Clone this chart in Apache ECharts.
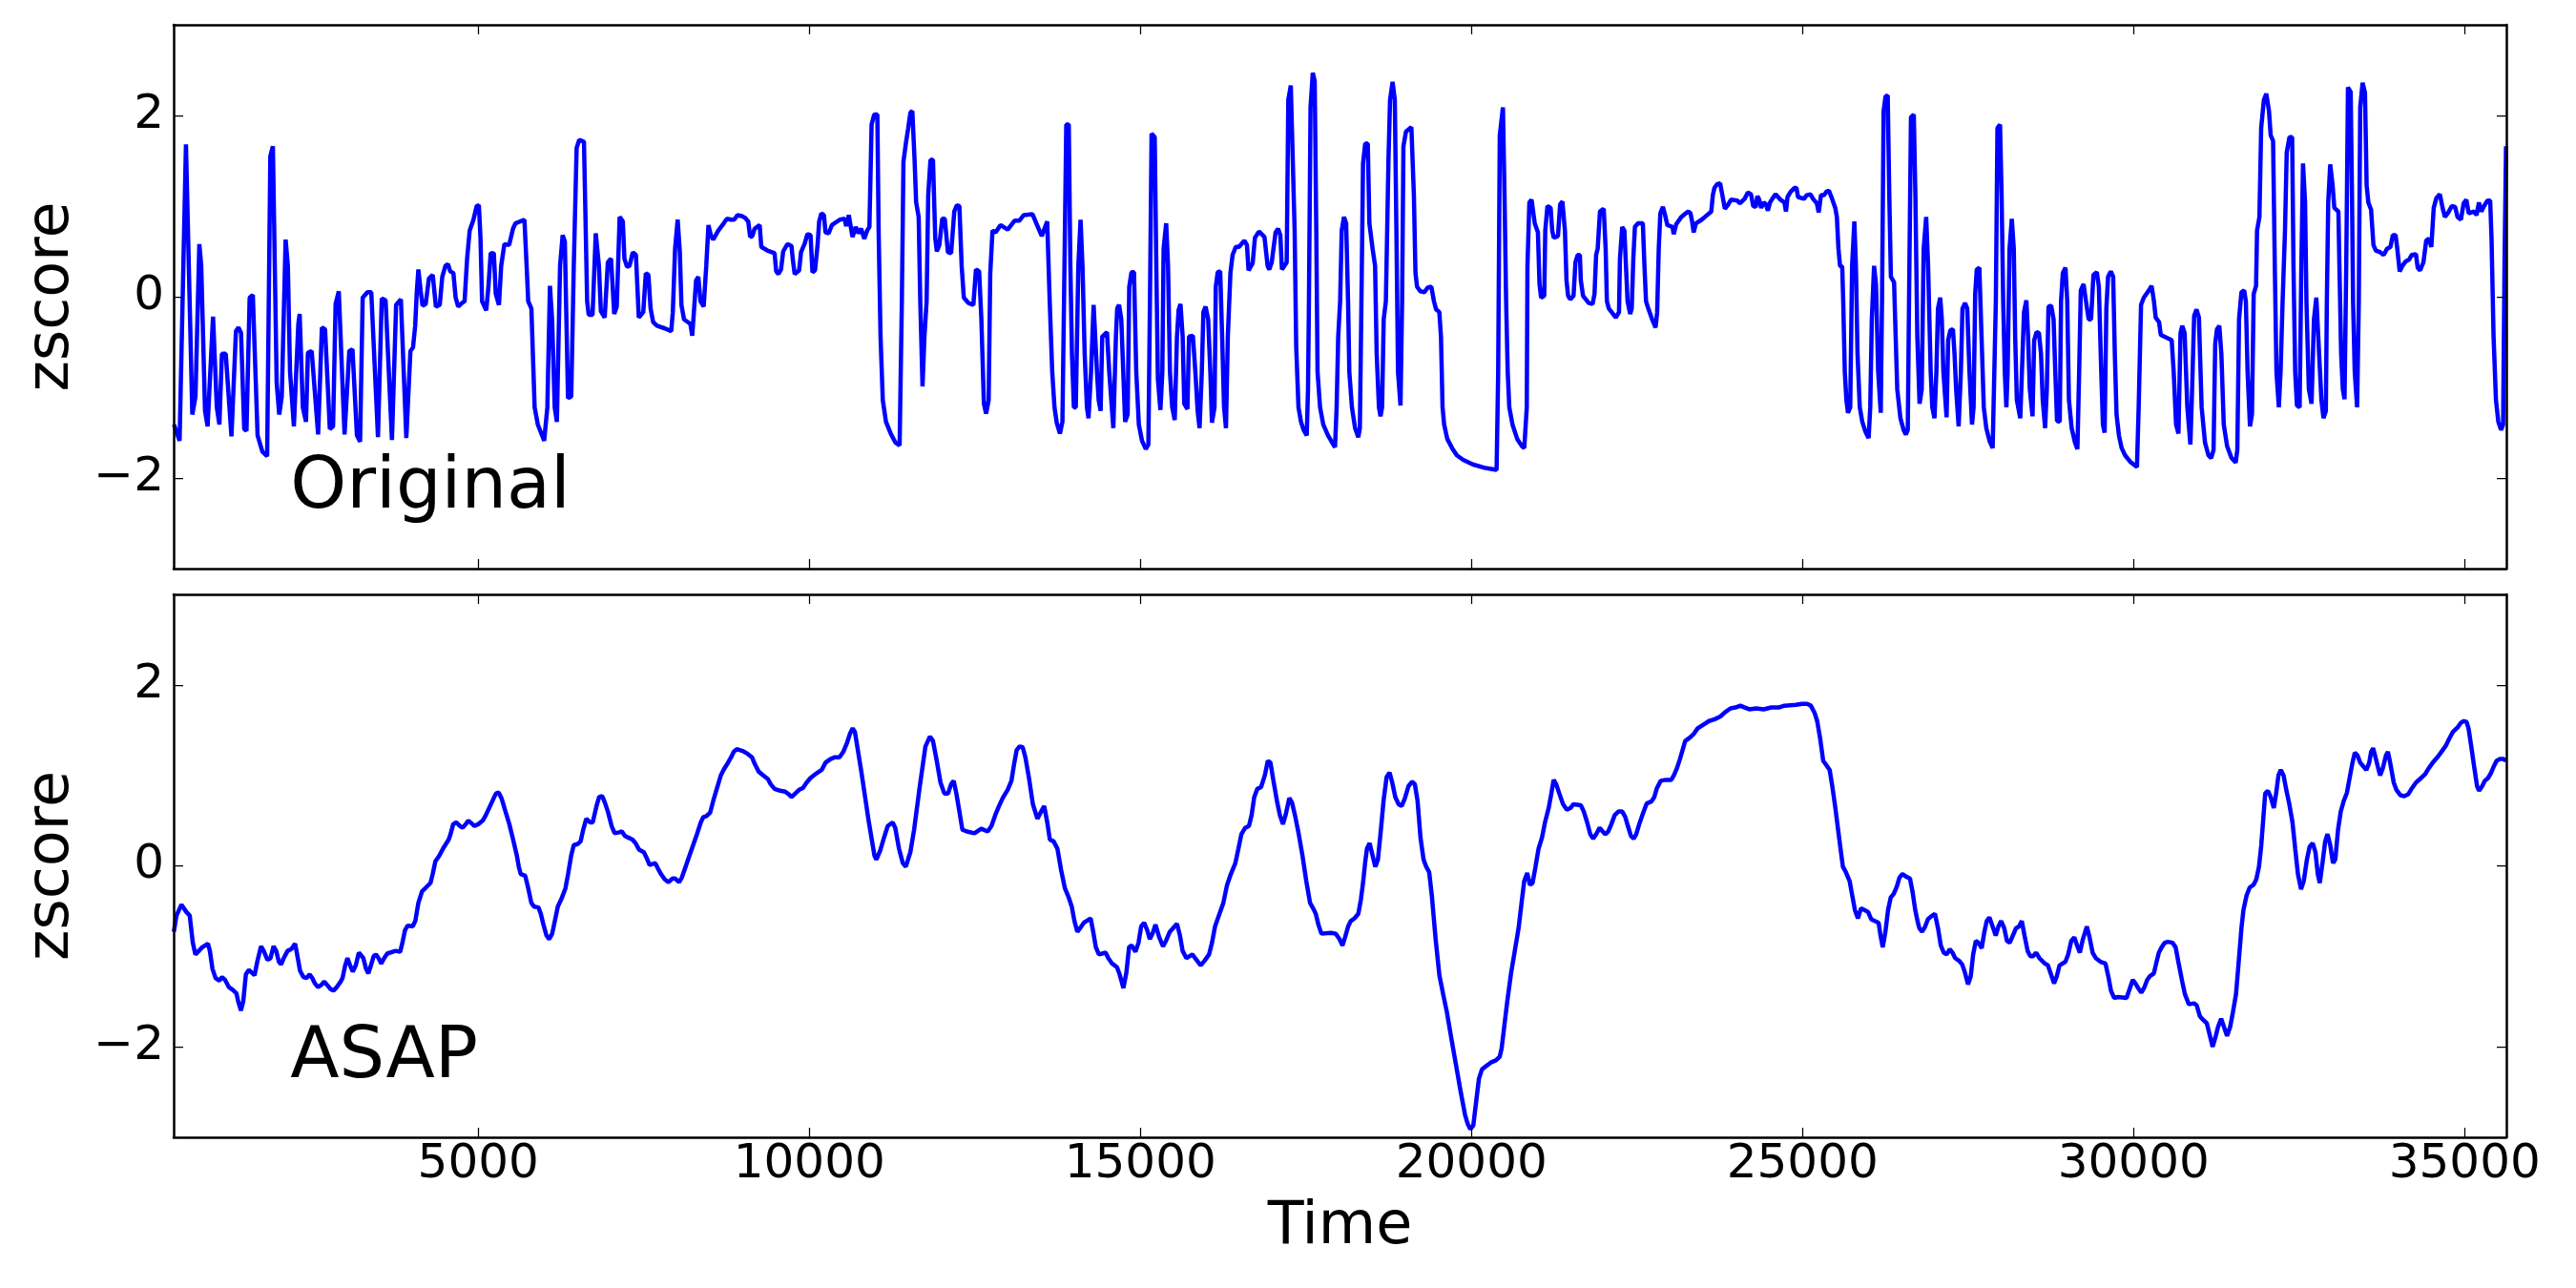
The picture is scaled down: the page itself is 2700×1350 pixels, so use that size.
<!DOCTYPE html>
<html>
<head>
<meta charset="utf-8">
<script src="https://cdn.jsdelivr.net/npm/echarts@6/dist/echarts.min.js"></script>
<style>
html,body{margin:0;padding:0;background:#fff;}
#chart{width:2700px;height:1350px;}
</style>
</head>
<body>
<div id="chart"></div>
<script>
// ---------------- data ----------------
const xTicks = [5000, 10000, 15000, 20000, 25000, 30000, 35000];
const yTicks = [-2, 0, 2];
const xRange = [400, 35630];
const yRange = [-3, 3];
const panelLabels = ['Original', 'ASAP'];
const xTitle = 'Time';
const yTitle = 'zscore';

// [time, zscore]
const originalPoints = [
[405,-1.41],[490,-1.59],[586,1.68],[682,-1.30],[730,-1.10],[788,0.58],[817,0.34],[874,-1.26],[913,-1.43],[995,-0.22],
[1052,-1.22],[1091,-1.41],[1129,-0.63],[1187,-0.63],[1273,-1.54],[1341,-0.38],[1379,-0.34],[1418,-0.40],[1466,-1.46],[1500,-1.48],
[1548,-0.01],[1596,0.02],[1668,-1.53],[1740,-1.71],[1812,-1.76],[1860,1.55],[1899,1.66],[1956,-0.95],[1995,-1.30],[2033,-1.10],
[2091,0.63],[2125,0.34],[2158,-0.83],[2216,-1.43],[2283,-0.30],[2303,-0.19],[2351,-1.22],[2399,-1.38],[2428,-0.62],[2485,-0.60],
[2582,-1.52],[2639,-0.34],[2687,-0.36],[2759,-1.46],[2808,-1.43],[2846,-0.08],[2894,0.06],[2981,-1.52],[3053,-0.60],[3101,-0.58],
[3168,-1.53],[3216,-1.60],[3255,-0.01],[3327,0.05],[3385,0.05],[3486,-1.55],[3543,-0.02],[3601,-0.04],[3697,-1.58],[3760,-0.09],
[3832,-0.03],[3914,-1.56],[3976,-0.60],[4015,-0.56],[4048,-0.32],[4072,0.05],[4096,0.30],[4130,0.07],[4159,-0.10],[4207,-0.08],
[4255,0.20],[4313,0.24],[4361,-0.11],[4419,-0.09],[4457,0.22],[4505,0.34],[4544,0.36],[4577,0.28],[4625,0.26],[4659,-0.01],
[4697,-0.11],[4755,-0.07],[4794,-0.05],[4832,0.42],[4871,0.73],[4928,0.85],[4976,1.00],[5010,1.01],[5034,0.65],[5058,-0.05],
[5121,-0.15],[5154,0.11],[5188,0.48],[5236,0.48],[5265,0.03],[5313,-0.09],[5347,0.34],[5395,0.58],[5467,0.57],[5525,0.75],
[5563,0.81],[5698,0.85],[5731,0.34],[5755,-0.05],[5803,-0.13],[5852,-1.22],[5900,-1.41],[5996,-1.59],[6044,-1.22],[6083,0.12],
[6116,-0.25],[6155,-1.22],[6188,-1.38],[6236,0.34],[6275,0.68],[6308,0.61],[6356,-1.12],[6405,-1.10],[6443,0.34],[6486,1.64],
[6525,1.73],[6597,1.71],[6645,-0.05],[6669,-0.20],[6727,-0.20],[6775,0.70],[6823,0.34],[6852,-0.16],[6910,-0.23],[6958,0.38],
[7006,0.42],[7054,-0.19],[7092,-0.11],[7136,0.88],[7184,0.83],[7208,0.42],[7247,0.33],[7285,0.34],[7334,0.49],[7382,0.46],
[7425,-0.23],[7450,-0.25],[7493,-0.17],[7531,0.26],[7570,0.24],[7603,-0.13],[7642,-0.28],[7699,-0.32],[7819,-0.35],[7915,-0.38],
[7939,-0.17],[7973,0.53],[8012,0.85],[8045,0.49],[8069,-0.09],[8108,-0.25],[8204,-0.30],[8232,-0.43],[8261,-0.13],[8290,0.18],
[8324,0.22],[8357,-0.05],[8405,-0.11],[8444,0.34],[8477,0.79],[8516,0.67],[8549,0.63],[8626,0.73],[8708,0.81],[8756,0.86],
[8818,0.85],[8866,0.85],[8915,0.90],[8982,0.89],[9030,0.87],[9078,0.83],[9107,0.66],[9140,0.67],[9174,0.75],[9251,0.79],
[9275,0.55],[9366,0.51],[9476,0.48],[9500,0.28],[9534,0.25],[9573,0.30],[9606,0.50],[9669,0.58],[9731,0.56],[9750,0.42],
[9779,0.25],[9846,0.29],[9875,0.49],[9933,0.59],[9971,0.69],[10019,0.68],[10048,0.27],[10086,0.29],[10125,0.57],[10149,0.83],
[10183,0.92],[10221,0.90],[10245,0.71],[10293,0.70],[10341,0.79],[10461,0.85],[10533,0.86],[10557,0.78],[10596,0.90],[10624,0.90],
[10653,0.66],[10701,0.77],[10740,0.70],[10783,0.75],[10831,0.64],[10874,0.73],[10908,0.77],[10941,1.90],[10980,2.01],[11028,2.01],
[11047,0.73],[11076,-0.44],[11110,-1.14],[11158,-1.38],[11230,-1.51],[11302,-1.61],[11364,-1.64],[11398,-0.05],[11422,1.49],[11460,1.70],
[11494,1.86],[11527,2.03],[11556,2.05],[11590,1.51],[11614,1.04],[11652,0.88],[11676,-0.05],[11710,-0.99],[11739,-0.44],[11772,-0.05],
[11796,1.12],[11830,1.51],[11868,1.51],[11902,0.65],[11926,0.50],[11964,0.57],[12008,0.86],[12046,0.86],[12094,0.49],[12142,0.48],
[12190,0.94],[12229,1.01],[12267,1.00],[12301,0.34],[12334,-0.01],[12406,-0.07],[12478,-0.09],[12517,0.30],[12565,0.28],[12599,-0.25],
[12637,-1.18],[12670,-1.29],[12709,-1.14],[12733,0.26],[12767,0.73],[12815,0.71],[12887,0.79],[12997,0.74],[13103,0.84],[13175,0.84],
[13237,0.90],[13372,0.91],[13429,0.81],[13511,0.67],[13593,0.83],[13631,-0.05],[13669,-0.83],[13703,-1.22],[13737,-1.39],[13785,-1.51],
[13823,-1.38],[13847,-0.05],[13881,1.90],[13919,1.90],[13943,0.34],[13967,-0.63],[13996,-1.22],[14025,-1.22],[14063,0.34],[14097,0.85],
[14126,0.34],[14159,-0.63],[14193,-1.22],[14217,-1.34],[14255,-0.83],[14294,-0.09],[14318,-0.07],[14345,-0.83],[14370,-1.14],[14400,-1.26],
[14424,-0.44],[14496,-0.39],[14530,-0.83],[14592,-1.45],[14631,-0.44],[14650,-0.13],[14679,-0.09],[14712,-0.25],[14770,-1.38],[14808,-1.30],
[14832,0.11],[14866,0.27],[14904,0.27],[14938,-0.83],[14977,-1.41],[15025,-1.59],[15082,-1.68],[15121,-1.63],[15145,-0.05],[15169,1.80],
[15217,1.76],[15241,0.34],[15265,-0.91],[15303,-1.25],[15332,-0.83],[15351,0.53],[15390,0.81],[15418,0.34],[15447,-0.83],[15481,-1.22],
[15519,-1.36],[15553,-0.44],[15577,-0.15],[15606,-0.08],[15639,-0.44],[15663,-1.18],[15711,-1.24],[15735,-0.44],[15793,-0.43],[15831,-0.83],
[15865,-1.26],[15894,-1.45],[15928,-0.83],[15952,-0.17],[15985,-0.11],[16024,-0.25],[16057,-0.83],[16081,-1.39],[16120,-1.22],[16139,0.11],
[16168,0.27],[16206,0.28],[16235,-0.44],[16264,-1.22],[16293,-1.45],[16321,-0.44],[16360,0.26],[16393,0.46],[16441,0.55],[16490,0.55],
[16571,0.62],[16610,0.57],[16634,0.29],[16696,0.37],[16730,0.65],[16792,0.72],[16874,0.66],[16922,0.34],[16946,0.30],[16984,0.38],
[17042,0.71],[17080,0.75],[17114,0.68],[17138,0.30],[17210,0.38],[17234,2.17],[17272,2.33],[17296,2.32],[17330,0.73],[17354,-0.56],
[17388,-1.22],[17426,-1.38],[17465,-1.47],[17513,-1.53],[17532,-1.02],[17546,-0.05],[17570,2.09],[17604,2.47],[17633,2.38],[17657,0.73],
[17676,-0.83],[17714,-1.22],[17762,-1.41],[17834,-1.53],[17897,-1.61],[17940,-1.66],[17964,-1.22],[17988,-0.44],[18017,-0.05],[18041,0.73],
[18075,0.88],[18108,0.81],[18137,-0.05],[18156,-0.83],[18195,-1.22],[18243,-1.45],[18291,-1.55],[18315,-1.45],[18339,-0.05],[18363,1.47],
[18396,1.69],[18435,1.69],[18459,0.81],[18507,0.53],[18545,0.34],[18569,-0.63],[18603,-1.22],[18627,-1.32],[18651,-1.22],[18675,-0.25],
[18708,-0.05],[18747,1.51],[18771,2.17],[18809,2.37],[18843,2.17],[18867,0.73],[18891,-0.83],[18929,-1.20],[18953,-0.05],[18973,1.66],
[19011,1.82],[19093,1.87],[19131,1.12],[19155,0.26],[19179,0.11],[19227,0.06],[19290,0.05],[19338,0.10],[19395,0.11],[19434,-0.05],
[19467,-0.14],[19515,-0.17],[19540,-0.44],[19564,-1.22],[19588,-1.41],[19636,-1.57],[19708,-1.67],[19780,-1.75],[19876,-1.80],[20020,-1.85],
[20212,-1.89],[20380,-1.91],[20404,-0.83],[20428,1.78],[20476,2.09],[20500,1.12],[20524,-0.05],[20548,-0.83],[20572,-1.22],[20620,-1.41],
[20692,-1.57],[20764,-1.65],[20798,-1.67],[20836,-1.22],[20846,0.34],[20875,1.04],[20908,1.07],[20956,0.81],[21004,0.71],[21028,0.14],
[21052,-0.01],[21100,0.01],[21115,0.73],[21148,1.00],[21196,0.98],[21220,0.73],[21244,0.65],[21307,0.67],[21340,1.02],[21374,1.05],
[21412,0.73],[21436,0.18],[21460,0.01],[21494,-0.03],[21542,0.01],[21571,0.38],[21604,0.46],[21638,0.46],[21652,0.18],[21686,0.01],
[21772,-0.07],[21830,-0.08],[21859,0.03],[21883,0.46],[21907,0.53],[21941,0.94],[21998,0.97],[22027,0.53],[22046,-0.05],[22075,-0.13],
[22181,-0.23],[22229,-0.17],[22243,0.42],[22277,0.77],[22310,0.73],[22334,0.34],[22358,-0.05],[22397,-0.19],[22421,-0.13],[22445,0.42],
[22469,0.77],[22517,0.81],[22589,0.81],[22613,0.34],[22637,-0.05],[22671,-0.13],[22724,-0.24],[22781,-0.34],[22805,-0.17],[22829,0.53],
[22853,0.92],[22892,0.99],[22925,0.90],[22959,0.79],[23036,0.77],[23055,0.69],[23093,0.80],[23170,0.88],[23237,0.92],[23276,0.94],
[23309,0.92],[23333,0.83],[23357,0.71],[23391,0.81],[23478,0.85],[23526,0.88],[23622,0.94],[23646,1.12],[23670,1.20],[23708,1.24],
[23756,1.25],[23790,1.12],[23828,0.97],[23871,1.01],[23919,1.07],[24016,1.06],[24054,1.03],[24126,1.08],[24174,1.15],[24222,1.13],
[24256,1.00],[24294,0.99],[24318,1.11],[24342,1.08],[24376,0.98],[24414,1.04],[24448,1.02],[24477,0.95],[24510,1.04],[24544,1.08],
[24592,1.13],[24669,1.07],[24727,1.04],[24750,0.94],[24774,1.10],[24822,1.16],[24880,1.20],[24909,1.20],[24933,1.10],[25024,1.08],
[25063,1.12],[25120,1.13],[25159,1.08],[25216,1.03],[25245,0.93],[25279,1.12],[25327,1.12],[25360,1.16],[25399,1.17],[25447,1.08],
[25495,0.98],[25519,0.88],[25543,0.53],[25567,0.34],[25600,0.33],[25615,-0.05],[25639,-0.83],[25663,-1.14],[25687,-1.28],[25721,-1.22],
[25749,0.34],[25783,0.83],[25807,0.34],[25831,-0.63],[25865,-1.22],[25903,-1.38],[25951,-1.49],[25999,-1.56],[26023,-1.22],[26047,-0.25],
[26081,0.34],[26110,0.14],[26143,-0.83],[26182,-1.28],[26201,-0.05],[26225,2.05],[26254,2.21],[26287,2.22],[26311,1.12],[26335,0.22],
[26383,0.16],[26407,-0.44],[26431,-1.02],[26479,-1.34],[26527,-1.47],[26561,-1.52],[26590,-1.47],[26609,-0.05],[26638,1.98],[26681,2.01],
[26705,1.12],[26734,-0.44],[26768,-1.18],[26801,-1.02],[26830,0.53],[26868,0.88],[26897,0.34],[26936,-0.83],[26960,-1.22],[26993,-1.34],
[27022,-0.83],[27046,-0.13],[27080,-0.01],[27104,-0.25],[27128,-0.83],[27176,-1.33],[27200,-0.48],[27233,-0.37],[27272,-0.36],[27296,-0.63],
[27320,-1.02],[27358,-1.43],[27392,-0.83],[27416,-0.13],[27454,-0.07],[27488,-0.13],[27522,-0.83],[27560,-1.41],[27584,-1.22],[27608,0.03],
[27632,0.30],[27671,0.32],[27704,-0.44],[27738,-1.22],[27776,-1.45],[27824,-1.59],[27872,-1.67],[27896,-1.67],[27920,-0.05],[27944,1.86],
[27983,1.90],[28007,1.12],[28031,-0.05],[28055,-0.83],[28079,-1.22],[28098,-0.83],[28127,0.53],[28161,0.86],[28191,0.53],[28212,-0.44],
[28237,-1.14],[28289,-1.34],[28314,-0.83],[28345,-0.17],[28381,-0.04],[28407,-0.44],[28433,-1.02],[28474,-1.32],[28499,-0.48],[28535,-0.39],
[28571,-0.40],[28602,-0.63],[28628,-1.14],[28664,-1.45],[28690,-1.02],[28715,-0.11],[28756,-0.10],[28792,-0.25],[28818,-0.83],[28844,-1.37],
[28885,-1.38],[28905,-0.05],[28931,0.26],[28972,0.32],[28998,-0.05],[29024,-1.14],[29065,-1.45],[29116,-1.61],[29152,-1.68],[29178,-0.83],
[29203,0.07],[29245,0.14],[29281,-0.05],[29322,-0.25],[29358,-0.25],[29394,0.24],[29445,0.27],[29476,0.11],[29512,-0.83],[29537,-1.41],
[29563,-1.50],[29589,-0.13],[29615,0.22],[29656,0.28],[29692,0.22],[29717,-0.63],[29743,-1.30],[29779,-1.53],[29820,-1.67],[29872,-1.75],
[29949,-1.82],[30051,-1.88],[30077,-1.22],[30113,-0.09],[30154,-0.01],[30231,0.07],[30272,0.12],[30308,-0.05],[30334,-0.23],[30385,-0.28],
[30411,-0.42],[30576,-0.48],[30606,-0.83],[30642,-1.41],[30678,-1.51],[30709,-0.40],[30735,-0.32],[30771,-0.40],[30812,-1.22],[30858,-1.63],
[30884,-1.02],[30915,-0.21],[30951,-0.14],[30987,-0.23],[31028,-1.22],[31079,-1.61],[31131,-1.75],[31172,-1.78],[31208,-1.69],[31233,-0.52],
[31259,-0.36],[31295,-0.32],[31326,-0.63],[31362,-1.41],[31413,-1.65],[31480,-1.78],[31542,-1.83],[31567,-1.69],[31593,-0.25],[31629,0.05],
[31670,0.07],[31696,-0.05],[31722,-0.83],[31758,-1.43],[31788,-1.30],[31814,0.03],[31850,0.12],[31865,0.73],[31901,0.88],[31927,1.86],
[31968,2.17],[32004,2.24],[32045,2.05],[32071,1.78],[32107,1.72],[32133,0.34],[32158,-0.83],[32194,-1.22],[32220,-0.83],[32251,-0.05],
[32287,0.73],[32313,1.59],[32354,1.76],[32395,1.76],[32415,0.34],[32441,-0.83],[32467,-1.20],[32508,-1.22],[32534,0.34],[32559,1.47],
[32590,1.04],[32611,-0.05],[32647,-1.02],[32688,-1.18],[32724,-0.25],[32760,-0.01],[32785,-0.01],[32816,-0.83],[32837,-1.14],[32868,-1.34],
[32904,-1.26],[32919,-0.05],[32940,1.04],[32970,1.46],[33006,1.23],[33032,0.98],[33094,0.94],[33109,0.34],[33135,-0.63],[33160,-1.02],
[33186,-1.13],[33212,0.34],[33238,2.31],[33279,2.26],[33299,1.12],[33315,-0.05],[33340,-0.83],[33376,-1.22],[33402,-0.05],[33423,2.09],
[33459,2.36],[33495,2.25],[33520,1.23],[33546,1.04],[33587,0.96],[33623,0.57],[33659,0.51],[33726,0.49],[33777,0.46],[33829,0.53],
[33880,0.55],[33916,0.68],[33957,0.68],[33983,0.53],[34019,0.28],[34060,0.34],[34111,0.39],[34163,0.41],[34199,0.46],[34265,0.47],
[34291,0.32],[34327,0.29],[34378,0.38],[34420,0.62],[34461,0.64],[34497,0.55],[34533,0.98],[34574,1.09],[34626,1.13],[34667,0.98],
[34702,0.88],[34754,0.93],[34805,1.00],[34857,0.99],[34893,0.88],[34944,0.85],[34985,1.03],[35026,1.07],[35062,0.92],[35139,0.94],
[35180,0.90],[35216,1.04],[35252,0.94],[35293,1.00],[35345,1.06],[35386,1.06],[35406,0.65],[35437,-0.44],[35473,-1.14],[35509,-1.38],
[35550,-1.47],[35581,-1.41],[35602,0.34],[35625,1.66]
];

const asapPoints = [
[403,-0.73],[443,-0.55],[518,-0.43],[592,-0.51],[643,-0.55],[689,-0.85],[729,-0.98],[832,-0.90],[918,-0.86],[947,-0.94],
[987,-1.14],[1033,-1.24],[1090,-1.27],[1130,-1.23],[1176,-1.26],[1233,-1.34],[1290,-1.37],[1348,-1.41],[1376,-1.50],[1416,-1.60],
[1451,-1.50],[1491,-1.20],[1537,-1.15],[1622,-1.21],[1663,-1.06],[1720,-0.89],[1760,-0.94],[1817,-1.04],[1863,-1.02],[1909,-0.89],
[1949,-0.94],[1989,-1.06],[2023,-1.09],[2063,-1.02],[2121,-0.94],[2178,-0.92],[2235,-0.86],[2275,-1.02],[2309,-1.16],[2361,-1.23],
[2407,-1.24],[2453,-1.20],[2493,-1.24],[2533,-1.30],[2579,-1.34],[2624,-1.32],[2676,-1.28],[2722,-1.32],[2767,-1.36],[2813,-1.38],
[2865,-1.34],[2922,-1.28],[2951,-1.24],[2991,-1.10],[3025,-1.02],[3065,-1.10],[3105,-1.17],[3151,-1.10],[3197,-0.96],[3225,-0.94],
[3265,-1.02],[3306,-1.14],[3340,-1.19],[3380,-1.10],[3420,-1.00],[3455,-0.98],[3495,-1.02],[3535,-1.08],[3580,-1.02],[3626,-0.97],
[3752,-0.94],[3821,-0.95],[3855,-0.85],[3895,-0.71],[3935,-0.66],[4010,-0.67],[4050,-0.61],[4096,-0.41],[4153,-0.28],[4210,-0.24],
[4279,-0.19],[4313,-0.09],[4353,0.05],[4411,0.11],[4468,0.19],[4554,0.29],[4582,0.35],[4622,0.46],[4668,0.48],[4725,0.44],
[4765,0.42],[4811,0.46],[4851,0.50],[4897,0.47],[4943,0.44],[5000,0.46],[5069,0.50],[5115,0.56],[5172,0.65],[5229,0.74],
[5269,0.80],[5309,0.81],[5355,0.74],[5412,0.60],[5470,0.46],[5527,0.29],[5584,0.11],[5613,-0.01],[5641,-0.09],[5710,-0.11],
[5756,-0.25],[5802,-0.41],[5842,-0.45],[5910,-0.46],[5945,-0.53],[5985,-0.65],[6031,-0.77],[6071,-0.81],[6117,-0.75],[6157,-0.61],
[6202,-0.45],[6254,-0.37],[6317,-0.25],[6357,-0.09],[6403,0.11],[6443,0.23],[6500,0.24],[6546,0.27],[6586,0.40],[6632,0.52],
[6689,0.48],[6729,0.48],[6786,0.66],[6826,0.76],[6872,0.77],[6912,0.70],[6958,0.60],[7015,0.44],[7061,0.36],[7130,0.37],
[7170,0.38],[7216,0.33],[7273,0.31],[7330,0.29],[7376,0.25],[7428,0.18],[7502,0.15],[7542,0.09],[7588,0.01],[7628,0.02],
[7674,0.03],[7714,-0.03],[7760,-0.09],[7817,-0.15],[7874,-0.18],[7932,-0.14],[7972,-0.14],[8034,-0.18],[8075,-0.13],[8132,-0.01],
[8189,0.11],[8246,0.23],[8304,0.35],[8361,0.48],[8401,0.54],[8447,0.55],[8504,0.59],[8550,0.72],[8607,0.86],[8664,1.00],
[8705,1.06],[8756,1.12],[8819,1.20],[8859,1.26],[8905,1.29],[8991,1.27],[9065,1.24],[9134,1.20],[9180,1.12],[9237,1.04],
[9305,1.00],[9374,0.96],[9419,0.90],[9476,0.85],[9561,0.83],[9636,0.82],[9692,0.79],[9732,0.76],[9789,0.80],[9846,0.84],
[9903,0.86],[9960,0.92],[10017,0.97],[10103,1.02],[10188,1.06],[10245,1.14],[10319,1.18],[10387,1.20],[10456,1.20],[10513,1.26],
[10570,1.36],[10615,1.46],[10655,1.52],[10689,1.48],[10786,1.04],[10900,0.48],[10985,0.11],[11014,0.07],[11071,0.17],[11128,0.31],
[11185,0.44],[11259,0.48],[11298,0.42],[11355,0.19],[11412,0.03],[11458,-0.01],[11526,0.15],[11583,0.40],[11669,0.88],[11754,1.32],
[11822,1.43],[11868,1.38],[11925,1.16],[11982,0.92],[12039,0.80],[12096,0.80],[12141,0.90],[12181,0.94],[12221,0.80],[12267,0.60],
[12312,0.40],[12380,0.38],[12494,0.36],[12597,0.41],[12694,0.38],[12751,0.44],[12808,0.56],[12865,0.66],[12922,0.75],[12996,0.84],
[13053,0.94],[13092,1.12],[13132,1.28],[13178,1.32],[13223,1.31],[13263,1.20],[13320,0.96],[13377,0.68],[13445,0.52],[13502,0.60],
[13548,0.66],[13594,0.48],[13633,0.29],[13690,0.27],[13747,0.19],[13804,-0.05],[13861,-0.25],[13918,-0.35],[13964,-0.45],[14004,-0.61],
[14049,-0.73],[14089,-0.69],[14146,-0.63],[14249,-0.58],[14288,-0.73],[14328,-0.90],[14374,-0.98],[14476,-0.96],[14516,-1.02],[14573,-1.08],
[14647,-1.12],[14687,-1.20],[14744,-1.35],[14789,-1.18],[14829,-0.90],[14869,-0.88],[14926,-0.95],[14972,-0.85],[15012,-0.67],[15057,-0.63],
[15103,-0.71],[15143,-0.81],[15188,-0.74],[15228,-0.65],[15285,-0.79],[15342,-0.89],[15387,-0.83],[15444,-0.73],[15553,-0.64],[15598,-0.77],
[15638,-0.94],[15695,-1.02],[15786,-0.98],[15826,-1.02],[15911,-1.10],[15968,-1.05],[16037,-0.98],[16082,-0.85],[16128,-0.67],[16185,-0.55],
[16253,-0.41],[16310,-0.21],[16367,-0.09],[16435,0.03],[16481,0.19],[16526,0.35],[16583,0.42],[16640,0.44],[16680,0.56],[16720,0.76],
[16766,0.85],[16823,0.87],[16880,1.00],[16925,1.16],[16965,1.14],[17005,0.96],[17062,0.72],[17107,0.56],[17153,0.46],[17193,0.56],
[17250,0.75],[17290,0.70],[17335,0.56],[17392,0.35],[17449,0.11],[17506,-0.17],[17563,-0.41],[17609,-0.47],[17649,-0.53],[17689,-0.65],
[17734,-0.75],[17877,-0.74],[17950,-0.75],[18007,-0.81],[18052,-0.88],[18092,-0.79],[18138,-0.67],[18178,-0.61],[18235,-0.58],[18292,-0.53],
[18331,-0.37],[18366,-0.17],[18394,0.03],[18422,0.19],[18462,0.25],[18502,0.13],[18548,-0.01],[18588,0.07],[18633,0.40],[18673,0.72],
[18719,0.98],[18764,1.03],[18804,0.92],[18850,0.76],[18901,0.68],[18946,0.66],[18992,0.74],[19049,0.88],[19106,0.93],[19146,0.90],
[19186,0.72],[19231,0.31],[19277,0.07],[19317,-0.01],[19362,-0.07],[19402,-0.33],[19459,-0.81],[19516,-1.21],[19573,-1.42],[19630,-1.62],
[19704,-1.94],[19772,-2.22],[19841,-2.51],[19903,-2.75],[19943,-2.85],[19983,-2.91],[20028,-2.87],[20074,-2.59],[20114,-2.35],[20159,-2.25],
[20228,-2.21],[20302,-2.17],[20370,-2.15],[20427,-2.11],[20456,-2.02],[20495,-1.78],[20541,-1.50],[20598,-1.19],[20655,-0.94],[20712,-0.69],
[20757,-0.41],[20797,-0.17],[20843,-0.08],[20883,-0.21],[20923,-0.19],[20968,-0.01],[21014,0.19],[21065,0.31],[21111,0.48],[21167,0.64],
[21207,0.80],[21242,0.95],[21281,0.90],[21327,0.80],[21384,0.68],[21441,0.62],[21498,0.64],[21538,0.68],[21652,0.67],[21697,0.60],
[21748,0.48],[21794,0.35],[21839,0.30],[21885,0.35],[21936,0.42],[21982,0.38],[22022,0.35],[22067,0.38],[22113,0.46],[22164,0.56],
[22221,0.60],[22278,0.60],[22324,0.54],[22363,0.44],[22409,0.33],[22449,0.30],[22489,0.35],[22534,0.46],[22591,0.58],[22648,0.69],
[22716,0.71],[22762,0.76],[22802,0.86],[22859,0.94],[22933,0.95],[23018,0.95],[23058,1.00],[23104,1.08],[23149,1.18],[23189,1.28],
[23229,1.38],[23303,1.42],[23360,1.46],[23417,1.52],[23502,1.56],[23588,1.60],[23673,1.62],[23759,1.65],[23833,1.70],[23912,1.74],
[23987,1.75],[24061,1.77],[24129,1.75],[24197,1.73],[24300,1.74],[24414,1.73],[24528,1.75],[24641,1.75],[24727,1.77],[24898,1.78],
[24994,1.79],[25069,1.79],[25126,1.77],[25183,1.69],[25222,1.60],[25268,1.40],[25313,1.16],[25353,1.12],[25410,1.06],[25450,0.88],
[25496,0.64],[25553,0.31],[25610,-0.01],[25655,-0.07],[25712,-0.17],[25752,-0.33],[25792,-0.49],[25837,-0.58],[25883,-0.47],[25940,-0.49],
[25991,-0.51],[26037,-0.59],[26150,-0.63],[26178,-0.77],[26212,-0.90],[26252,-0.73],[26292,-0.49],[26332,-0.35],[26378,-0.31],[26424,-0.23],
[26464,-0.13],[26509,-0.09],[26566,-0.12],[26623,-0.14],[26663,-0.29],[26703,-0.49],[26737,-0.61],[26765,-0.69],[26806,-0.73],[26853,-0.67],
[26894,-0.59],[26941,-0.56],[27000,-0.53],[27047,-0.69],[27088,-0.88],[27135,-0.96],[27177,-0.98],[27224,-0.92],[27265,-0.96],[27306,-1.02],
[27365,-1.05],[27412,-1.09],[27453,-1.18],[27500,-1.31],[27541,-1.22],[27577,-0.98],[27618,-0.83],[27659,-0.85],[27706,-0.91],[27747,-0.73],
[27782,-0.61],[27823,-0.57],[27871,-0.67],[27918,-0.77],[27959,-0.67],[28000,-0.61],[28047,-0.69],[28088,-0.83],[28130,-0.85],[28177,-0.77],
[28224,-0.69],[28271,-0.67],[28312,-0.61],[28353,-0.77],[28400,-0.94],[28441,-1.00],[28482,-1.00],[28530,-0.96],[28577,-1.02],[28659,-1.08],
[28706,-1.10],[28753,-1.20],[28800,-1.30],[28841,-1.22],[28882,-1.10],[28971,-1.06],[29012,-0.98],[29059,-0.83],[29106,-0.79],[29147,-0.88],
[29188,-0.96],[29235,-0.81],[29294,-0.67],[29335,-0.79],[29382,-0.96],[29429,-1.02],[29500,-1.06],[29576,-1.08],[29618,-1.22],[29659,-1.38],
[29706,-1.46],[29765,-1.45],[29894,-1.46],[29941,-1.36],[29988,-1.26],[30029,-1.30],[30076,-1.36],[30118,-1.40],[30165,-1.34],[30206,-1.26],
[30247,-1.22],[30306,-1.19],[30341,-1.08],[30382,-0.96],[30424,-0.90],[30471,-0.85],[30518,-0.84],[30588,-0.85],[30635,-0.90],[30676,-1.06],
[30735,-1.28],[30776,-1.42],[30835,-1.53],[30912,-1.52],[30953,-1.54],[31000,-1.66],[31047,-1.70],[31106,-1.74],[31147,-1.86],[31194,-2.00],
[31235,-1.90],[31276,-1.78],[31323,-1.69],[31365,-1.78],[31412,-1.88],[31459,-1.78],[31500,-1.62],[31547,-1.42],[31588,-1.06],[31629,-0.69],
[31659,-0.49],[31706,-0.33],[31753,-0.24],[31812,-0.21],[31853,-0.15],[31894,-0.01],[31929,0.23],[31959,0.52],[31988,0.80],[32029,0.83],
[32071,0.76],[32118,0.64],[32153,0.80],[32188,1.00],[32223,1.06],[32265,1.00],[32306,0.84],[32353,0.68],[32400,0.48],[32441,0.19],
[32482,-0.09],[32529,-0.26],[32570,-0.17],[32618,0.07],[32659,0.21],[32706,0.25],[32747,0.15],[32782,-0.09],[32812,-0.19],[32853,0.03],
[32894,0.27],[32929,0.35],[32970,0.23],[33012,0.03],[33047,0.07],[33088,0.40],[33129,0.60],[33176,0.72],[33223,0.81],[33265,0.98],
[33306,1.14],[33341,1.25],[33382,1.22],[33423,1.14],[33470,1.10],[33517,1.06],[33559,1.14],[33588,1.26],[33617,1.30],[33647,1.22],
[33688,1.10],[33723,1.00],[33765,1.08],[33812,1.22],[33841,1.26],[33870,1.16],[33900,1.04],[33929,0.92],[33970,0.84],[34029,0.78],
[34088,0.77],[34147,0.79],[34206,0.86],[34265,0.92],[34341,0.97],[34400,1.01],[34459,1.08],[34529,1.15],[34600,1.21],[34659,1.27],
[34718,1.33],[34764,1.40],[34823,1.48],[34894,1.53],[34941,1.58],[34988,1.60],[35029,1.59],[35059,1.52],[35100,1.32],[35147,1.08],
[35188,0.88],[35218,0.83],[35265,0.88],[35306,0.94],[35353,0.97],[35394,1.02],[35441,1.10],[35482,1.16],[35529,1.18],[35588,1.18],
[35625,1.16]
];

// ---------------- chart ----------------
const FONT = '"DejaVu Sans", "Liberation Sans", sans-serif';
const minusFmt = v => (v < 0 ? '\u2212' + Math.abs(v) : String(v));
const plainFmt = v => String(v);
const grids = [
  {left: 182, top: 26, width: 2445, height: 570},
  {left: 182, top: 623, width: 2445, height: 569}
];

function xAxisCfg(gridIndex, position, showLabels, name) {
  return {
    type: 'value', gridIndex: gridIndex, position: position,
    min: xRange[0], max: xRange[1], z: 5,
    axisLine: {show: true, onZero: false, lineStyle: {color: '#000', width: 2.5}},
    axisTick: {show: true, inside: true, length: 10, customValues: xTicks,
               lineStyle: {color: '#000', width: 1.25}},
    axisLabel: {show: showLabels, customValues: xTicks, color: '#000', fontFamily: FONT,
                fontSize: 50, lineHeight: 50, margin: 4, formatter: plainFmt},
    splitLine: {show: false},
    name: name || '', nameLocation: 'middle', nameGap: 64, nameMoveOverlap: false,
    nameTextStyle: {color: '#000', fontFamily: FONT, fontSize: 62, lineHeight: 62}
  };
}
function yAxisCfg(gridIndex, position, showLabels, name) {
  return {
    type: 'value', gridIndex: gridIndex, position: position,
    min: yRange[0], max: yRange[1], z: 5,
    axisLine: {show: true, onZero: false, lineStyle: {color: '#000', width: 2.5}},
    axisTick: {show: true, inside: true, length: 10, customValues: yTicks,
               lineStyle: {color: '#000', width: 1.25}},
    axisLabel: {show: showLabels, customValues: yTicks, color: '#000', fontFamily: FONT,
                fontSize: 50, lineHeight: 50, margin: 10, formatter: minusFmt},
    splitLine: {show: false},
    name: name || '', nameLocation: 'middle', nameGap: 96, nameRotate: 90, nameMoveOverlap: false,
    nameTextStyle: {color: '#000', fontFamily: FONT, fontSize: 62, lineHeight: 62}
  };
}

const chart = echarts.init(document.getElementById('chart'), null, {renderer: 'canvas'});
const option = {
  animation: false,
  backgroundColor: '#ffffff',
  grid: grids.map(g => Object.assign({containLabel: false, outerBoundsMode: 'none'}, g)),
  xAxis: [
    xAxisCfg(0, 'bottom', false),
    xAxisCfg(0, 'top', false),
    xAxisCfg(1, 'bottom', true, xTitle),
    xAxisCfg(1, 'top', false)
  ],
  yAxis: [
    yAxisCfg(0, 'left', true, yTitle),
    yAxisCfg(0, 'right', false),
    yAxisCfg(1, 'left', true, yTitle),
    yAxisCfg(1, 'right', false)
  ],
  series: [
    {type: 'line', name: panelLabels[0], xAxisIndex: 0, yAxisIndex: 0, data: originalPoints,
     showSymbol: false, symbol: 'none', smooth: false, clip: true,
     lineStyle: {color: '#0000ff', width: 4.5}, z: 2},
    {type: 'line', name: panelLabels[1], xAxisIndex: 2, yAxisIndex: 2, data: asapPoints,
     showSymbol: false, symbol: 'none', smooth: false, clip: true,
     lineStyle: {color: '#0000ff', width: 4.5}, z: 2}
  ],
  graphic: panelLabels.map((t, i) => ({
    type: 'text',
    x: grids[i].left + 0.05 * grids[i].width,
    y: grids[i].top + 0.9 * grids[i].height - 26,
    z: 10,
    style: {text: t, font: '75px ' + FONT, fill: '#000',
            textAlign: 'left', textVerticalAlign: 'middle', verticalAlign: 'middle'}
  }))
};
chart.setOption(option);
</script>
</body>
</html>
